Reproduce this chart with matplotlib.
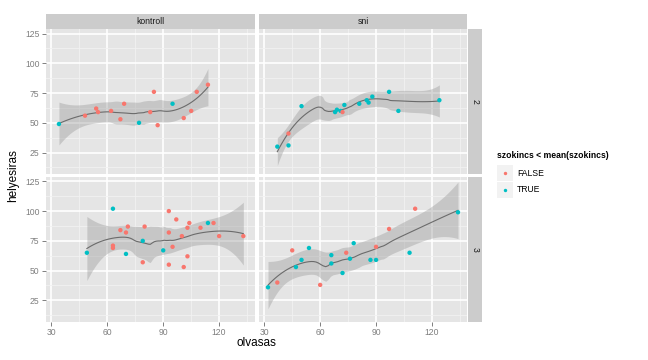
import numpy as np
import matplotlib
matplotlib.use("Agg")
import matplotlib.pyplot as plt

plt.rcParams['font.family'] = ['Liberation Sans', 'DejaVu Sans']

# csoport = kontroll, sor = 2
k2_olvasas = [34, 48, 54, 55, 62, 67, 69, 77, 83, 85, 87, 95, 101, 105, 108, 114]
k2_helyesiras = [49, 56, 62, 59, 60, 53, 66, 50, 59, 76, 48, 66, 54, 60, 76, 82]
k2_kisebb = [True, False, False, False, False, False, False, True, False, False, False,
             True, False, False, False, False]

# csoport = sni, sor = 2
s2_olvasas = [37, 43, 43, 50, 68, 69, 71, 72, 73, 81, 85, 86, 88, 97, 102, 124]
s2_helyesiras = [30, 41, 31, 64, 59, 61, 60, 59, 65, 66, 69, 67, 72, 76, 60, 69]
s2_kisebb = [True, False, True, True, True, True, True, False, True, True, True, True,
             True, True, True, True]

# csoport = kontroll, sor = 3
k3_olvasas = [49, 63, 63, 63, 67, 70, 71, 70, 79, 79, 80, 90, 93, 93, 93, 95, 97, 100,
              101, 103, 103, 104, 110, 114, 117, 120, 133]
k3_helyesiras = [65, 102, 71, 69, 84, 82, 87, 64, 75, 57, 87, 67, 100, 82, 55, 70, 93, 79,
                 53, 62, 86, 90, 86, 90, 90, 79, 79]
k3_kisebb = [True, True, False, False, False, False, False, True, True, False, False, True,
             False, False, False, False, False, False, False, False, False, False, False,
             True, False, False, False]

# csoport = sni, sor = 3
s3_olvasas = [32, 37, 45, 47, 50, 54, 60, 66, 66, 72, 74, 76, 78, 87, 90, 90, 97, 108, 111, 134]
s3_helyesiras = [36, 40, 67, 53, 59, 69, 38, 63, 56, 48, 65, 60, 73, 59, 59, 70, 85, 65, 102, 99]
s3_kisebb = [True, False, False, True, True, True, False, True, True, True, False, True,
             True, True, True, False, False, True, False, True]

oszlopok = ["kontroll", "sni"]
sorok = ["2", "3"]
szin = {False: "#F8766D", True: "#00BFC4"}


def loess_fit(x, y, xs, span=0.75):
    """Local quadratic fit (tricube weights) with 95% confidence band."""
    x = np.asarray(x, float)
    y = np.asarray(y, float)
    n = len(x)
    q = int(np.floor(n * span))

    def row(x0):
        d = np.abs(x - x0)
        h = np.sort(d)[q - 1]
        w = np.clip(1 - (d / h) ** 3, 0, None) ** 3
        X = np.column_stack([np.ones(n), x - x0, (x - x0) ** 2])
        XtW = X.T * w
        return np.linalg.pinv(XtW @ X)[0] @ XtW

    L = np.array([row(v) for v in x])
    M = np.eye(n) - L
    R = M.T @ M
    one_delta = np.trace(R)
    two_delta = np.trace(R @ R)
    sigma = np.sqrt(np.sum((M @ y) ** 2) / one_delta)
    df = one_delta ** 2 / two_delta
    z = 1.959964
    t = (z + (z ** 3 + z) / (4 * df) + (5 * z ** 5 + 16 * z ** 3 + 3 * z) / (96 * df ** 2)
         + (3 * z ** 7 + 19 * z ** 5 + 17 * z ** 3 - 15 * z) / (384 * df ** 3))
    Ls = np.array([row(v) for v in xs])
    fit = Ls @ y
    se = sigma * np.sqrt(np.sum(Ls ** 2, axis=1))
    return fit, fit - t * se, fit + t * se


adatok = {
    ("2", "kontroll"): (k2_olvasas, k2_helyesiras, k2_kisebb),
    ("2", "sni"): (s2_olvasas, s2_helyesiras, s2_kisebb),
    ("3", "kontroll"): (k3_olvasas, k3_helyesiras, k3_kisebb),
    ("3", "sni"): (s3_olvasas, s3_helyesiras, s3_kisebb),
}

W, H = 648, 360
fig = plt.figure(figsize=(W / 100, H / 100), dpi=100)

panel_x = [45.7, 258.5]
panel_w = 209.0
panel_y = [29.0, 176.8]
panel_h = 145.0
tick_col = "#7f7f7f"


def px(x0, y0, w, h):
    return [x0 / W, 1 - (y0 + h) / H, w / W, h / H]


for i, sor in enumerate(sorok):
    for j, osz in enumerate(oszlopok):
        ax = fig.add_axes(px(panel_x[j], panel_y[i], panel_w, panel_h))
        ax.set_facecolor("#E5E5E5")
        for s in ax.spines.values():
            s.set_visible(False)
        ax.set_xlim(26.9, 139.1)
        ax.set_ylim(7.0, 128.8)
        ax.set_xticks([30, 60, 90, 120])
        ax.set_yticks([25, 50, 75, 100, 125])
        ax.set_xticks([45, 75, 105, 135], minor=True)
        ax.set_yticks([12.5, 37.5, 62.5, 87.5, 112.5], minor=True)
        ax.grid(which="major", color="white", lw=1.2)
        ax.grid(which="minor", color="#F2F2F2", lw=0.6)
        ax.set_axisbelow(True)
        ax.tick_params(which="minor", length=0)
        ax.tick_params(which="major", length=3.2, width=0.7, color=tick_col,
                       labelcolor=tick_col, labelsize=6.2, pad=1.2)
        if j > 0:
            ax.tick_params(axis="y", labelleft=False, length=0)
        if i == 0:
            ax.tick_params(axis="x", labelbottom=False, length=0)

        xv, yv, kis = adatok[(sor, osz)]
        xs = np.linspace(min(xv), max(xv), 80)
        fit, lo, hi = loess_fit(xv, yv, xs)
        ax.fill_between(xs, lo, hi, color="#999999", alpha=0.4, lw=0, zorder=2)
        ax.plot(xs, fit, color="#6b6b6b", lw=0.8, zorder=3)
        cols = [szin[k] for k in kis]
        ax.scatter(xv, yv, c=cols, s=10, lw=0, zorder=4)

        if i == 0:
            st = fig.add_axes(px(panel_x[j], 14.0, panel_w, 15.0))
            st.set_facecolor("#CCCCCC")
            st.set_xticks([])
            st.set_yticks([])
            for s in st.spines.values():
                s.set_visible(False)
            st.text(0.5, 0.5, osz, ha="center", va="center", fontsize=6.2,
                    color="#1a1a1a", transform=st.transAxes)
        if j == 1:
            st = fig.add_axes(px(468.0, panel_y[i], 14.0, panel_h))
            st.set_facecolor("#CCCCCC")
            st.set_xticks([])
            st.set_yticks([])
            for s in st.spines.values():
                s.set_visible(False)
            st.text(0.5, 0.5, sor, ha="center", va="center", fontsize=6.2,
                    rotation=-90, color="#1a1a1a", transform=st.transAxes)

fig.text(256.5 / W, 1 - 343 / H, "olvasas", ha="center", va="center", fontsize=8.5)
fig.text(13 / W, 1 - 175.5 / H, "helyesiras", ha="center", va="center",
         rotation=90, fontsize=8.5)

# legend
lax = fig.add_axes([0, 0, 1, 1])
lax.set_xlim(0, W)
lax.set_ylim(H, 0)
lax.axis("off")
lax.text(497, 156, "szokincs < mean(szokincs)", ha="left", va="center",
         fontsize=6.2, fontweight="bold")
for k, (cimke, ertek) in enumerate([("FALSE", False), ("TRUE", True)]):
    y0 = 165 + k * 16.7
    lax.add_patch(plt.Rectangle((497, y0), 16, 16, color="#F2F2F2", lw=0))
    lax.scatter([505], [y0 + 8], color=szin[ertek], s=6, lw=0)
    lax.text(517, y0 + 8, cimke, ha="left", va="center", fontsize=6.2)

fig.savefig("out.png", dpi=100)
